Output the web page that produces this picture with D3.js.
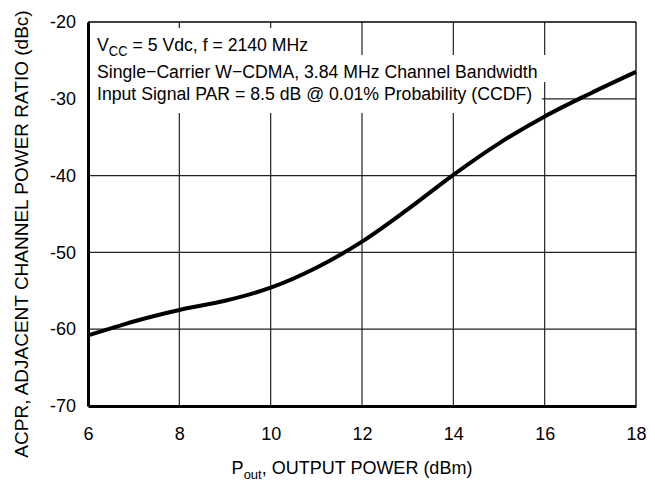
<!DOCTYPE html>
<html><head><meta charset="utf-8">
<script src="https://cdn.jsdelivr.net/npm/d3@7"></script>
<style>
body{margin:0;background:#fff;}
svg{display:block;font-family:"Liberation Sans",Arial,sans-serif;}
</style></head>
<body><svg id="c" width="655" height="483"></svg>
<script>
const pout = [6, 6.5, 7, 8, 9, 10, 11, 12, 13, 14, 15, 16, 17, 18];
const acpr = [-60.8, -59.9, -59.0, -57.5, -56.3, -54.6, -52.0, -48.6, -44.4, -39.9, -35.8, -32.3, -29.3, -26.5];
const xTicks = [6, 8, 10, 12, 14, 16, 18];
const yTicks = [-20, -30, -40, -50, -60, -70];
const notes = ["V|CC| = 5 Vdc, f = 2140 MHz", "Single\u2212Carrier W\u2212CDMA, 3.84 MHz Channel Bandwidth", "Input Signal PAR = 8.5 dB @ 0.01% Probability (CCDF)"];

const svg = d3.select("#c");
const L = 88, R = 636, T = 22, B = 406;
const x = d3.scaleLinear().domain([6, 18]).range([L, R]);
const y = d3.scaleLinear().domain([-70, -20]).range([B, T]);

// grid
const g = svg.append("g");
g.selectAll(".vg").data(xTicks.slice(1, -1)).join("line")
  .attr("x1", d => x(d)).attr("x2", d => x(d)).attr("y1", T).attr("y2", B)
  .attr("stroke", "#222").attr("stroke-width", 1.2);
g.selectAll(".hg").data(yTicks.slice(1, -1)).join("line")
  .attr("y1", d => y(d)).attr("y2", d => y(d)).attr("x1", L).attr("x2", R)
  .attr("stroke", "#222").attr("stroke-width", 1.2);

// notes with white backgrounds
const baselines = [51, 78, 100];
const rg = svg.append("g");
const ng = svg.append("g");
notes.forEach((n, i) => {
  const rect = rg.append("rect").attr("fill", "#fff");
  const t = ng.append("text")
    .attr("transform", `translate(97,${baselines[i]}) scale(0.93,1)`)
    .attr("font-size", 19).attr("fill", "#000");
  const parts = n.split("|");
  parts.forEach((p, k) => {
    if (k % 2 === 1) {
      t.append("tspan").attr("font-size", 14).attr("dy", 5).text(p);
    } else {
      const ts = t.append("tspan").text(p);
      if (k > 0) ts.attr("dy", -5);
    }
  });
  const w = t.node().getBBox().width * 0.93;
  rect.attr("x", L + 2).attr("y", baselines[i] - 23).attr("width", w + 17).attr("height", i === 2 ? 36 : 27);
});

// frame
svg.append("line").attr("x1", L).attr("x2", R).attr("y1", T).attr("y2", T).attr("stroke", "#000").attr("stroke-width", 1.3);
svg.append("line").attr("x1", R).attr("x2", R).attr("y1", T).attr("y2", B).attr("stroke", "#000").attr("stroke-width", 1.3);

// curve
svg.append("path").datum(pout.map((p, i) => [p, acpr[i]]))
  .attr("fill", "none").attr("stroke", "#000").attr("stroke-width", 4)
  .attr("stroke-linejoin", "round")
  .attr("d", d3.line().x(d => x(d[0])).y(d => y(d[1])).curve(d3.curveMonotoneX));

// axes
const xa = svg.append("g").attr("transform", `translate(0,${B})`)
  .call(d3.axisBottom(x).tickValues(xTicks).tickSize(0).tickPadding(21).tickFormat(d3.format("d")));
const ya = svg.append("g").attr("transform", `translate(${L},0)`)
  .call(d3.axisLeft(y).tickValues(yTicks).tickSize(0).tickPadding(12).tickFormat(d => d3.format("d")(d).replace("\u2212", "-")));
[xa, ya].forEach(a => {
  a.select(".domain").attr("stroke", "#000").attr("stroke-width", 3);
  a.selectAll("text").attr("font-size", 18).attr("fill", "#000").attr("font-family", "Liberation Sans, Arial, sans-serif");
});

// axis titles
const xt = svg.append("text").attr("x", 352).attr("y", 474).attr("text-anchor", "middle")
  .attr("font-size", 18).attr("fill", "#000");
xt.append("tspan").text("P");
xt.append("tspan").attr("font-size", 13).attr("dy", 5).text("out");
xt.append("tspan").attr("dy", -5).text(", OUTPUT POWER (dBm)");

svg.append("text").attr("transform", "translate(28,234) rotate(-90)").attr("text-anchor", "middle")
  .attr("font-size", 19).attr("fill", "#000").text("ACPR, ADJACENT CHANNEL POWER RATIO (dBc)");
</script></body></html>
